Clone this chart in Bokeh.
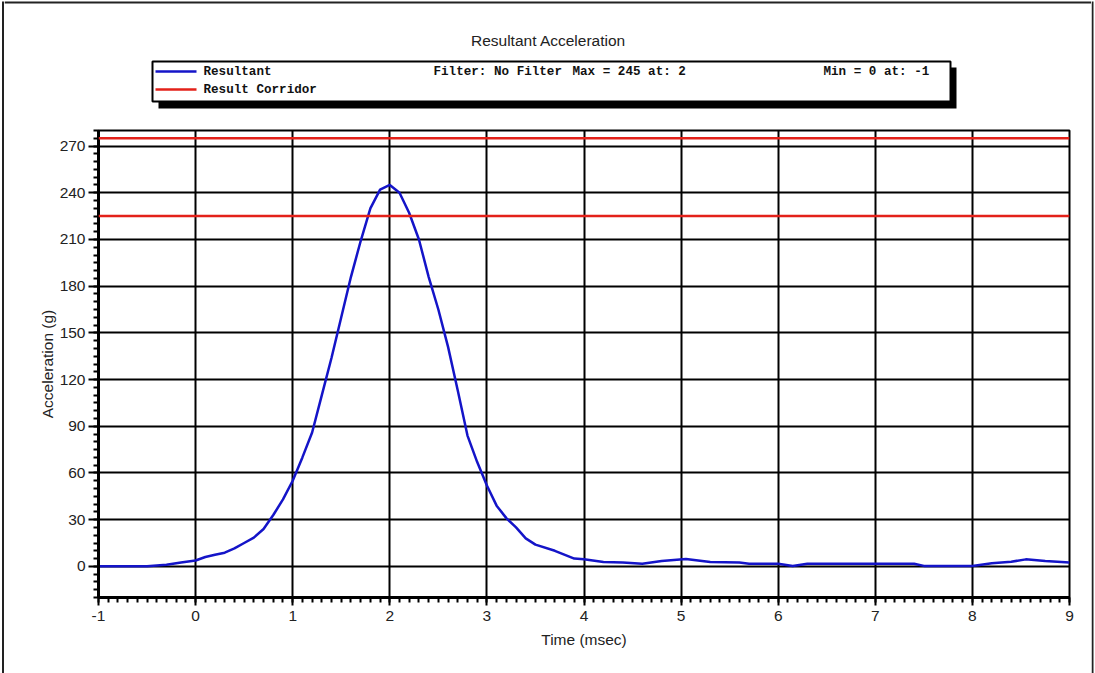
from bokeh.plotting import figure
from bokeh.layouts import column, row
from bokeh.models import ColumnDataSource, Span, FixedTicker, Range1d
from bokeh.core.properties import value
from bokeh.embed import file_html
from bokeh.resources import INLINE

# ---------------- data ----------------
time_ms = [-1.0, -0.5, -0.3, -0.15, 0.0, 0.1, 0.2, 0.3, 0.4, 0.5, 0.6, 0.7, 0.8, 0.9,
           1.0, 1.1, 1.2, 1.3, 1.4, 1.5, 1.6, 1.7, 1.8, 1.9, 2.0, 2.1, 2.2, 2.3, 2.4,
           2.5, 2.6, 2.7, 2.8, 2.9, 3.0, 3.1, 3.2, 3.3, 3.4, 3.5, 3.7, 3.9, 4.0, 4.2,
           4.4, 4.6, 4.8, 5.05, 5.3, 5.6, 5.7, 6.0, 6.15, 6.3, 7.4, 7.5, 8.0, 8.2,
           8.4, 8.55, 8.75, 9.0]
resultant_g = [0, 0, 1, 2.5, 3.8, 6, 7.5, 8.8, 11.5, 15, 18.5, 24, 33, 43,
               55, 70, 86, 110, 134, 160, 186, 209, 230, 242, 245, 240, 227, 210, 186,
               165, 141, 113, 84, 67, 52, 39, 31, 25, 18, 14, 10, 5, 4.5, 2.8,
               2.5, 1.7, 3.5, 4.8, 2.8, 2.5, 1.7, 1.7, 0.3, 1.7, 1.7, 0.3, 0.3, 2,
               3, 4.5, 3.5, 2.5]
corridor_g = [275, 225]

x_major_ticks = list(range(-1, 10))
x_minor_ticks = [round(-1 + 0.1 * i, 1) for i in range(101)]
y_major_ticks = list(range(0, 271, 30))
y_minor_ticks = list(range(-20, 281, 5))

title_text = "Resultant Acceleration"
legend_names = ["Resultant", "Result Corridor"]
filter_text = "Filter: No Filter"
max_text = "Max = 245 at: 2"
min_text = "Min = 0 at: -1"

BLUE = "#1414c8"
RED = "#e32119"
INK = "#222222"

W, H = 1095, 673
HEAD_H = 122
SIDE_L, SIDE_R = 4, 4
MID_W = W - SIDE_L - SIDE_R


def blank(width, height, x_range, y_range):
    f = figure(width=width, height=height, output_backend="svg", toolbar_location=None,
               x_range=x_range, y_range=y_range, min_border=0,
               x_axis_type=None, y_axis_type=None,
               background_fill_color="white", border_fill_color="white")
    f.frame_align = False
    f.grid.visible = False
    f.outline_line_color = None
    return f


# ---------------- picture frame strips ----------------
left_strip = blank(SIDE_L, H, Range1d(0, SIDE_L), Range1d(H, 0))
left_strip.quad(left=[1.5], right=[3.5], top=[1], bottom=[H], fill_color=INK,
                line_color=None)
right_strip = blank(SIDE_R, H, Range1d(0, SIDE_R), Range1d(H, 0))
right_strip.quad(left=[0], right=[2], top=[1], bottom=[H], fill_color=INK,
                 line_color=None)

# ---------------- header (title + legend box), page pixel coords ----------------
hd = blank(MID_W, HEAD_H, Range1d(SIDE_L, W - SIDE_R), Range1d(HEAD_H, 0))
hd.quad(left=[SIDE_L], right=[W - SIDE_R], top=[1], bottom=[3], fill_color=INK,
        line_color=None)

hd.text(x=[548], y=[40], text=[title_text], text_align="center",
        text_baseline="middle", text_font=value("Liberation Sans"),
        text_font_size="15.5px", text_color=INK)

hd.quad(left=[158], right=[956], top=[67], bottom=[108], fill_color="black",
        line_color=None)
hd.quad(left=[152], right=[950], top=[61], bottom=[101], fill_color="white",
        line_color="black", line_width=2)
hd.segment(x0=[155, 155], y0=[71, 89], x1=[196, 196], y1=[71, 89],
           line_color=[BLUE, RED], line_width=2.5)
hd.text(x=[203, 203, 433, 572, 823], y=[71, 89, 71, 71, 71],
        text=[legend_names[0], legend_names[1], filter_text, max_text, min_text],
        text_baseline="middle", text_font=value("Liberation Mono"),
        text_font_style="bold", text_font_size="12.6px", text_color="#111111")

# ---------------- main chart ----------------
MAIN_H = H - HEAD_H
p = figure(width=MID_W, height=MAIN_H, output_backend="svg", toolbar_location=None,
           x_range=Range1d(-1, 9), y_range=Range1d(-20, 280),
           min_border_left=98 - SIDE_L, min_border_right=(W - SIDE_R) - 1069,
           min_border_top=130 - HEAD_H, min_border_bottom=H - 597,
           background_fill_color="white", border_fill_color="white")
p.frame_align = False

p.xaxis.ticker = FixedTicker(ticks=x_major_ticks, minor_ticks=x_minor_ticks)
p.yaxis.ticker = FixedTicker(ticks=y_major_ticks, minor_ticks=y_minor_ticks)
p.xaxis.major_label_overrides = {-1: "-1"}

p.grid.grid_line_color = "black"
p.grid.grid_line_width = 2
p.grid.grid_line_alpha = 1

p.outline_line_color = "black"
p.outline_line_width = 2
p.outline_line_alpha = 1

for ax in (p.xaxis[0], p.yaxis[0]):
    ax.axis_line_width = 3
    ax.axis_line_color = "black"
    ax.major_tick_line_color = "black"
    ax.major_tick_line_width = 2
    ax.major_tick_in = 0
    ax.minor_tick_line_color = "black"
    ax.minor_tick_line_width = 2
    ax.minor_tick_in = 0
    ax.minor_tick_out = 5
    ax.major_label_text_font = "Liberation Sans"
    ax.major_label_text_font_size = "15.5px"
    ax.major_label_text_color = INK
    ax.axis_label_text_font = "Liberation Sans"
    ax.axis_label_text_font_size = "15.5px"
    ax.axis_label_text_font_style = "normal"
    ax.axis_label_text_color = INK

p.xaxis.major_tick_out = 8
p.xaxis.major_label_standoff = 5
p.xaxis.axis_label = "Time (msec)"
p.xaxis.axis_label_standoff = 7

p.yaxis.major_tick_out = 10
p.yaxis.major_label_standoff = 3
p.yaxis.axis_label = "Acceleration (g)"
p.yaxis.axis_label_standoff = 1

for c in corridor_g:
    p.add_layout(Span(location=c, dimension="width", line_color=RED, line_width=2.5))

src = ColumnDataSource(dict(t=time_ms, g=resultant_g))
p.line("t", "g", source=src, line_color=BLUE, line_width=2.5)

layout = row(left_strip, column(hd, p, spacing=0), right_strip, spacing=0)

open("out.html", "w").write(file_html(layout, INLINE))
